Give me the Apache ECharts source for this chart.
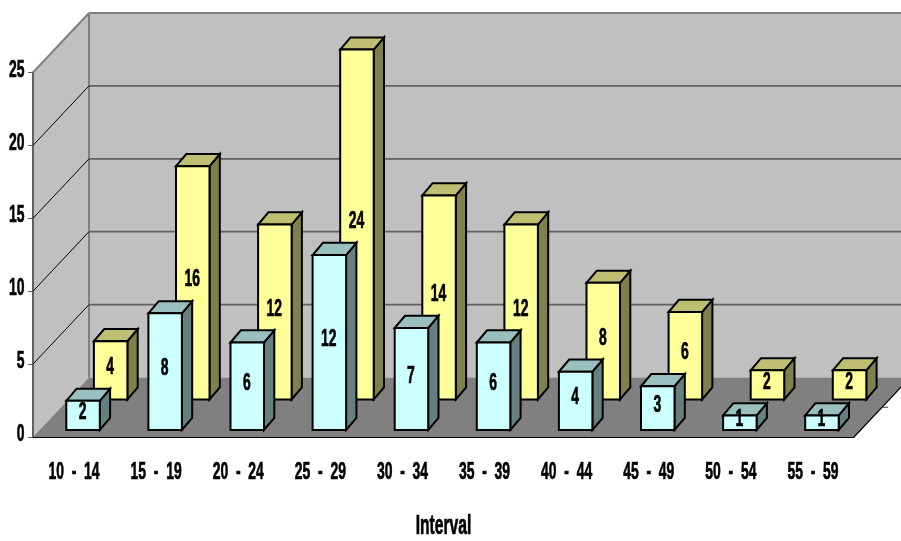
<!DOCTYPE html>
<html>
<head>
<meta charset="utf-8">
<style>html,body{margin:0;padding:0;background:#fff}#chart{width:901px;height:541px}</style>
<script src="https://cdn.jsdelivr.net/npm/echarts@6/dist/echarts.min.js"></script>
</head>
<body>
<div id="chart"></div>
<script>
// Age-interval counts, shown as a two-row pseudo-3D column chart.
const categories = ['10  -  14','15  -  19','20  -  24','25  -  29','30  -  34','35  -  39','40  -  44','45  -  49','50  -  54','55  -  59'];
const frontRow = [2, 8, 6, 12, 7, 6, 4, 3, 1, 1];
const backRow = [4, 16, 12, 24, 14, 12, 8, 6, 2, 2];
const valueTicks = [0, 5, 10, 15, 20, 25];
const axisTitle = 'Interval';

// Oblique projection, in pixels, applied on top of the cartesian scales.
const DEPTH = { x: 56, y: -59.5 };
const BOX = { x: 10.3, y: -12.2, widthRatio: 0.408 };
const LABEL_FONT = 'bold 24px "Liberation Sans", Arial, sans-serif';
const TITLE_FONT = 'bold 27px "Liberation Sans", Arial, sans-serif';
const NARROW = 0.58;

function poly(points, fill, stroke, lineWidth) {
  return {
    type: 'polygon',
    shape: { points },
    style: { fill: fill || 'none', stroke: stroke || 'none', lineWidth: lineWidth || 0, lineJoin: 'miter' }
  };
}
function seg(a, b, stroke, lineWidth) {
  return {
    type: 'line',
    shape: { x1: a[0], y1: a[1], x2: b[0], y2: b[1] },
    style: { stroke, lineWidth }
  };
}
// Condensed bold text: the regular face squeezed horizontally, with a hairline to keep its weight.
function narrowText(x, y, text, align, font) {
  return {
    type: 'text',
    x,
    y,
    scaleX: NARROW,
    style: {
      x: 0,
      y: 0,
      text,
      align: align || 'center',
      verticalAlign: 'middle',
      font: font || LABEL_FONT,
      fill: '#000',
      stroke: '#000',
      lineWidth: 0.7
    }
  };
}

// Side wall, back wall and floor are spanned from the axis extents.
function renderPlanes(params, api) {
  const band = api.size([1, 0])[0];
  const first = api.coord([0, 0]);
  const last = api.coord([categories.length - 1, 0]);
  const top = api.coord([0, 25])[1];
  const x0 = first[0] - band / 2;
  const x1 = last[0] + band / 2;
  const y0 = first[1];
  const dx = DEPTH.x, dy = DEPTH.y;
  return {
    type: 'group',
    children: [
      poly([[x0 + dx, top + dy], [x1 + dx, top + dy], [x1 + dx, y0 + dy], [x0 + dx, y0 + dy]], '#c0c0c0'),
      poly([[x0, top], [x0 + dx, top + dy], [x0 + dx, y0 + dy], [x0, y0]], '#c0c0c0'),
      poly([[x0, y0], [x0 + dx, y0 + dy], [x1 + dx, y0 + dy], [x1, y0]], '#808080'),
      seg([x0 + dx, top + dy], [x1 + dx, top + dy], '#808080', 2),
      seg([x0, top], [x0 + dx, top + dy], '#808080', 2),
      seg([x0 + dx, top + dy], [x0 + dx, y0 + dy], '#808080', 2),
      seg([x1, y0], [x1 + dx, y0 + dy], '#000', 1.2),
      seg([x1 + dx / 2, y0 + dy / 2], [x1 + dx / 2 + 6, y0 + dy / 2], '#404040', 1)
    ]
  };
}

// One gridline per tick: a diagonal on the side wall and a level on the back wall.
function renderGrid(params, api) {
  const v = api.value(1);
  const band = api.size([1, 0])[0];
  const p = api.coord([0, v]);
  const end = api.coord([categories.length - 1, v]);
  const x0 = p[0] - band / 2;
  const x1 = end[0] + band / 2;
  const children = [];
  if (v > 0 && v < 25) {
    children.push(seg([x0, p[1]], [x0 + DEPTH.x, p[1] + DEPTH.y], '#000', 1));
    children.push(seg([x0 + DEPTH.x, p[1] + DEPTH.y], [x1 + DEPTH.x, p[1] + DEPTH.y], '#606060', 1.8));
  }
  return { type: 'group', children };
}

// Draws a box with its front face on the given depth offset.
function boxRenderer(offset, colors) {
  return function (params, api) {
    const idx = api.value(0);
    const val = api.value(1);
    const base = api.coord([idx, 0]);
    const head = api.coord([idx, val]);
    const w = api.size([1, 0])[0] * BOX.widthRatio;
    const l = base[0] + offset.x - w / 2;
    const r = l + w;
    const b = base[1] + offset.y;
    const t = head[1] + offset.y;
    const bx = BOX.x, by = BOX.y;
    const lw = 2;
    return {
      type: 'group',
      children: [
        poly([[r, t], [r + bx, t + by], [r + bx, b + by], [r, b]], colors.side, '#000', lw),
        poly([[l, t], [l + bx, t + by], [r + bx, t + by], [r, t]], colors.top, '#000', lw),
        poly([[l, t], [r, t], [r, b], [l, b]], colors.face, '#000', lw),
        narrowText((l + r) / 2 - 0.5, (t + b) / 2 - 3, String(val))
      ]
    };
  };
}

// Tick labels and the axis title, placed relative to the axis positions.
function renderCategoryLabel(params, api) {
  const p = api.coord([api.value(0), 0]);
  return narrowText(p[0], p[1] + 35, categories[api.value(0)]);
}
function renderValueLabel(params, api) {
  const v = api.value(1);
  const p = api.coord([0, v]);
  const band = api.size([1, 0])[0];
  return narrowText(p[0] - band / 2 - 8.5, p[1] - 2.5, String(v), 'right');
}
function renderTitle(params, api) {
  const first = api.coord([0, 0]);
  const last = api.coord([categories.length - 1, 0]);
  return narrowText((first[0] + last[0]) / 2, first[1] + 90, axisTitle, 'center', TITLE_FONT);
}

const chart = echarts.init(document.getElementById('chart'), null, { renderer: 'canvas' });
chart.setOption({
  animation: false,
  backgroundColor: '#ffffff',
  grid: { left: 33, right: 47, top: 72.5, bottom: 104, outerBoundsMode: 'none' },
  xAxis: {
    type: 'category',
    data: categories,
    axisLine: { lineStyle: { color: '#000', width: 1.2 } },
    axisTick: { length: 7, lineStyle: { color: '#404040', width: 1 } },
    axisLabel: { show: false }
  },
  yAxis: {
    type: 'value',
    min: 0,
    max: 25,
    interval: 5,
    splitLine: { show: false },
    axisLine: { show: true, lineStyle: { color: '#606060', width: 2 } },
    axisTick: { show: true, length: 5, lineStyle: { color: '#606060', width: 1 } },
    axisLabel: { show: false }
  },
  series: [
    { type: 'custom', name: 'planes', silent: true, z: 0, data: [[0, 0]], renderItem: renderPlanes },
    { type: 'custom', name: 'gridlines', silent: true, z: 1, data: valueTicks.map(v => [0, v]), renderItem: renderGrid },
    {
      type: 'custom', name: 'Back row', silent: true, z: 3,
      data: backRow.map((v, i) => [i, v]),
      renderItem: boxRenderer({ x: 36.6, y: -37.5 }, { face: '#ffff99', top: '#bfbf73', side: '#80804d' })
    },
    {
      type: 'custom', name: 'Front row', silent: true, z: 4,
      data: frontRow.map((v, i) => [i, v]),
      renderItem: boxRenderer({ x: 9, y: -7 }, { face: '#ccffff', top: '#99bfbf', side: '#668080' })
    },
    { type: 'custom', name: 'category labels', silent: true, z: 5, data: categories.map((c, i) => [i, 0]), renderItem: renderCategoryLabel },
    { type: 'custom', name: 'value labels', silent: true, z: 5, data: valueTicks.map(v => [0, v]), renderItem: renderValueLabel },
    { type: 'custom', name: 'axis title', silent: true, z: 5, data: [[0, 0]], renderItem: renderTitle }
  ]
});
</script>
</body>
</html>
